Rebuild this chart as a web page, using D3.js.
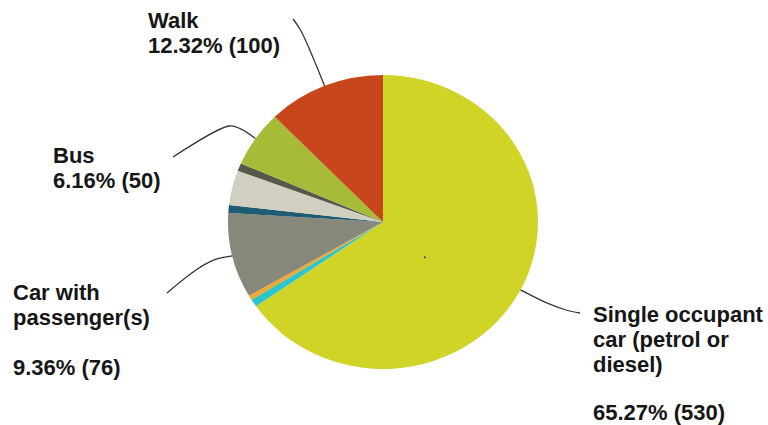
<!DOCTYPE html>
<html>
<head>
<meta charset="utf-8">
<script src="https://cdn.jsdelivr.net/npm/d3@7"></script>
<style>
    html, body { margin: 0; padding: 0; background: #fff; }
    text { font-family: "Liberation Sans", Arial, sans-serif; font-weight: bold; fill: #161616; }
</style>
</head>
<body>
<div id="pie-container"></div>
<script>
// data, clockwise from 12 o'clock
const modes = [
    "Single occupant car (petrol or diesel)",
    "Taxi",
    "Motorcycle",
    "Car with passenger(s)",
    "Train",
    "Cycle",
    "Work from home",
    "Bus",
    "Walk"
];
const counts = [530, 7, 4, 76, 7, 31, 7, 50, 100];
const colours = ["#cfd427", "#2fc4cc", "#f2a82a", "#87877a", "#1f5c73", "#d1cfc0", "#57574a", "#a8bb38", "#c7461b"];

// labelled slices: name lines shown, blank line before value where the source had it
const labelledModes = ["Walk", "Bus", "Car with passenger(s)", "Single occupant car (petrol or diesel)"];
const labelNameLines = [
    ["Walk"],
    ["Bus"],
    ["Car with", "passenger(s)", ""],
    ["Single occupant", "car (petrol or", "diesel)", ""]
];

function drawChart(width, height) {
    const cx = 383, cy = 222;
    const ry = 147, rx = 155; // the source pie is a touch wider than tall
    const sx = rx / ry;

    d3.select("#pie-container").select("svg").remove();

    const svg = d3
        .select("#pie-container")
        .append("svg")
        .attr("width", width)
        .attr("height", height);

    const total = d3.sum(counts);
    const data = modes.map((m, i) => ({ mode: m, count: counts[i], colour: colours[i] }));

    const pieGenerator = d3.pie().value((d) => d.count).sort(null);
    const arcGenerator = d3.arc().innerRadius(0).outerRadius(ry);
    const dataReady = pieGenerator(data);

    const g = svg
        .append("g")
        .attr("transform", `translate(${cx}, ${cy}) scale(${sx}, 1)`);

    g.selectAll("path")
        .data(dataReady)
        .enter()
        .append("path")
        .attr("d", arcGenerator)
        .attr("fill", (d) => d.data.colour);

    // point on the (stretched) rim, in page coords
    function rim(angle, r) {
        return [cx + r * sx * Math.sin(angle), cy - r * Math.cos(angle)];
    }

    // leader line layout per label: how far it runs out radially, then bend + end
    const leaderLayout = [
        { ext: 60, via: [], end: [293, 19] },
        { ext: 17, via: [[229, 126]], end: [173, 157] },
        { ext: 17, via: [[196, 270]], end: [167, 293] },
        { ext: 30, via: [[566, 310]], end: [580, 313] }
    ];
    const labelLayout = [
        { x: 148, y: 28, anchor: "start" },
        { x: 53, y: 163, anchor: "start" },
        { x: 13, y: 300, anchor: "start" },
        { x: 593, y: 322, anchor: "start" }
    ];
    const lineHeight = 25;

    const line = d3.line().curve(d3.curveCatmullRom.alpha(0.5));

    labelledModes.forEach((name, i) => {
        const d = dataReady.find((s) => s.data.mode === name);
        const mid = (d.startAngle + d.endAngle) / 2;
        const lay = leaderLayout[i];
        const pts = [rim(mid, ry), rim(mid, ry + lay.ext), ...lay.via, lay.end];

        svg.append("path")
            .attr("d", line(pts))
            .attr("fill", "none")
            .attr("stroke", "#333")
            .attr("stroke-width", 1.3);

        const pct = ((d.data.count / total) * 100).toFixed(2);
        const lines = [...labelNameLines[i], `${pct}% (${d.data.count})`];
        const lab = labelLayout[i];

        const t = svg.append("text")
            .attr("x", lab.x)
            .attr("y", lab.y)
            .attr("text-anchor", lab.anchor)
            .style("font-size", "22px");
        lines.forEach((l, j) => {
            t.append("tspan")
                .attr("x", lab.x)
                .attr("y", lab.y + j * lineHeight - (j === lines.length - 1 && i === 3 ? 2 : 0))
                .text(l);
        });
    });

    // stray label anchor dot that sits inside the big slice
    const big = dataReady[0];
    const dotAngle = big.startAngle + (big.endAngle - big.startAngle) * 0.56;
    const dot = rim(dotAngle, 53);
    svg.append("circle")
        .attr("cx", dot[0])
        .attr("cy", dot[1])
        .attr("r", 1)
        .attr("fill", "#333");
}

drawChart(768, 425);
</script>
</body>
</html>
